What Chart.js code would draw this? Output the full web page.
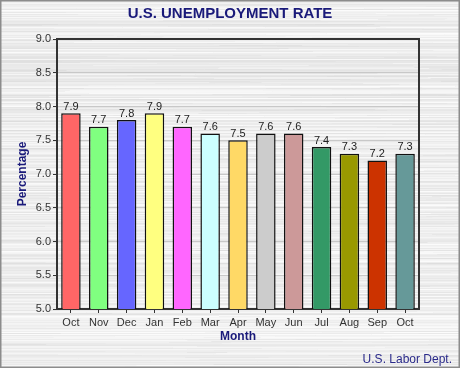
<!DOCTYPE html>
<html><head><meta charset="utf-8">
<script src="https://cdn.jsdelivr.net/npm/chart.js@4.4.1/dist/chart.umd.min.js"></script>
<style>html,body{margin:0;padding:0;background:#e8e8e8}#wrap{width:460px;height:368px}</style>
</head><body><div id="wrap"><canvas id="c" width="460" height="368"></canvas></div>
<script>
const months = ["Oct","Nov","Dec","Jan","Feb","Mar","Apr","May","Jun","Jul","Aug","Sep","Oct"];
const rates = [7.9,7.7,7.8,7.9,7.7,7.6,7.5,7.6,7.6,7.4,7.3,7.2,7.3];
const barColors = ["#ff6666","#80ff80","#6666ff","#ffff80","#ff66ff","#ccffff","#ffd966","#cccccc","#cc9999","#339966","#999900","#cc3300","#669999"];
const titleText = "U.S. UNEMPLOYMENT RATE";
const xTitle = "Month";
const yTitle = "Percentage";
const sourceText = "U.S. Labor Dept.";
const NAVY = "#1a1a7a";
const FONT = "'Liberation Sans', Arial, sans-serif";

function metal(ctx, x0, y0, w, h, seed) {
  ctx.save();
  for (let y = 0; y < h; y++) {
    const v = Math.sin((y + seed) * 12.9898) * 43758.5453;
    const r = v - Math.floor(v);
    const shade = Math.round(226 + r * 22);
    let x = 0;
    let k = 1;
    while (x < w) {
      const v2 = Math.sin((y * 31 + k * 7 + seed) * 78.233) * 12345.678;
      const r2 = v2 - Math.floor(v2);
      const len = 40 + r2 * 180;
      const s2 = Math.min(252, Math.round(shade + (r2 - 0.5) * 10));
      ctx.fillStyle = "rgb(" + s2 + "," + s2 + "," + s2 + ")";
      ctx.fillRect(x0 + x, y0 + y, Math.min(len, w - x), 1);
      x += len; k++;
    }
  }
  ctx.restore();
}

const deco = {
  id: "deco",
  beforeDraw(chart) {
    metal(chart.ctx, 0, 0, chart.width, chart.height, 3);
  },
  beforeDatasetsDraw(chart) {
    const ctx = chart.ctx, a = chart.chartArea;
    ctx.save();
    ctx.strokeStyle = "#333";
    ctx.lineWidth = 2;
    ctx.strokeRect(a.left, a.top, a.right - a.left, a.bottom - a.top);
    ctx.restore();
  },
  afterDatasetsDraw(chart) {
    const ctx = chart.ctx;
    const meta = chart.getDatasetMeta(0);
    ctx.save();
    ctx.font = "11px " + FONT;
    ctx.fillStyle = "#222";
    ctx.textAlign = "center";
    ctx.textBaseline = "bottom";
    meta.data.forEach((el, i) => {
      ctx.fillText(rates[i].toFixed(1), el.x, el.y - 1);
    });
    ctx.restore();
  },
  afterDraw(chart) {
    const ctx = chart.ctx, a = chart.chartArea;
    ctx.save();
    ctx.fillStyle = NAVY;
    ctx.textAlign = "center";
    ctx.textBaseline = "middle";
    ctx.font = "bold 15px " + FONT;
    ctx.fillText(titleText, 230, 14);
    ctx.font = "bold 12px " + FONT;
    ctx.fillText(xTitle, (a.left + a.right) / 2, 337);
    ctx.save();
    ctx.translate(23, (a.top + a.bottom) / 2);
    ctx.rotate(-Math.PI / 2);
    ctx.fillText(yTitle, 0, 0);
    ctx.restore();
    ctx.font = "12px " + FONT;
    ctx.fillStyle = "#2a2a8a";
    ctx.textAlign = "right";
    ctx.fillText(sourceText, 452, 360);
    ctx.strokeStyle = "#8c8c8c";
    ctx.lineWidth = 1.5;
    ctx.strokeRect(0.75, 0.75, chart.width - 1.5, chart.height - 1.5);
    ctx.restore();
  }
};

new Chart(document.getElementById("c"), {
  type: "bar",
  data: {
    labels: months,
    datasets: [{
      data: rates,
      backgroundColor: barColors,
      borderColor: "#111",
      borderWidth: 1.5,
      borderSkipped: false,
      categoryPercentage: 1,
      barPercentage: 0.7
    }]
  },
  options: {
    responsive: false,
    animation: false,
    devicePixelRatio: 1,
    layout: { padding: { top: 39, right: 41, left: 0, bottom: 0 } },
    plugins: { legend: { display: false }, tooltip: { enabled: false } },
    scales: {
      x: {
        afterFit(s) { s.height = 59; },
        grid: { display: true, drawOnChartArea: false, tickLength: 4, tickColor: "#333", offset: false },
        border: { display: true, color: "#333", width: 2 },
        ticks: { color: "#333", font: { size: 11, family: FONT }, padding: 3, maxRotation: 0, autoSkip: false }
      },
      y: {
        min: 5, max: 9,
        afterFit(s) { s.width = 57; },
        grid: { color: "#c8c8c8", lineWidth: 1, tickLength: 4, tickColor: "#333", drawTicks: true },
        border: { display: true, color: "#333", width: 2 },
        ticks: { stepSize: 0.5, color: "#333", font: { size: 11, family: FONT }, padding: 2,
          callback: v => Number(v).toFixed(1) }
      }
    }
  },
  plugins: [deco]
});
</script></body></html>
